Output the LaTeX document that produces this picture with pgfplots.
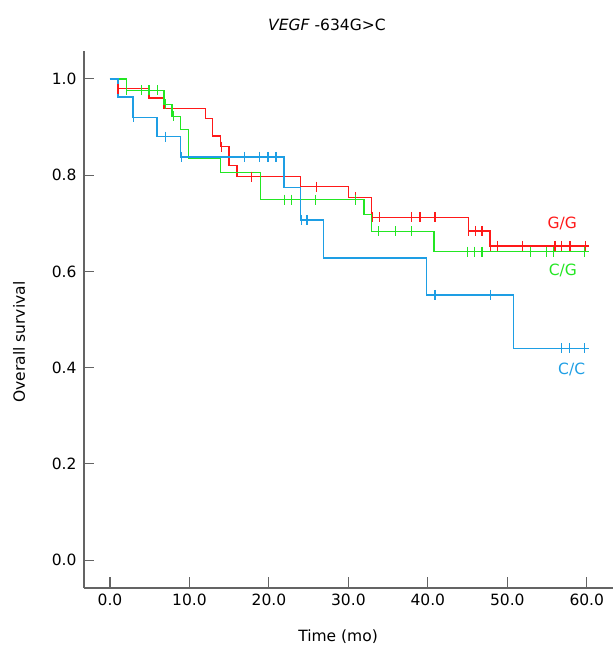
\documentclass[border=0pt]{standalone}
\usepackage{pgfplots}
\pgfplotsset{compat=1.18}
\usetikzlibrary{calc}
\usepackage{fontspec}
\setmainfont{DejaVu Sans}
\newcommand\lbl{\fontsize{15.5}{18}\selectfont}
\definecolor{ggred}{RGB}{255,25,25}
\definecolor{cggreen}{RGB}{35,230,35}
\definecolor{ccblue}{RGB}{30,158,228}
\definecolor{axgray}{RGB}{100,100,100}
\begin{document}
\begin{tikzpicture}
\begin{axis}[
  scale only axis, width=529pt, height=537pt,
  xmin=-3.27, xmax=63.3, ymin=-0.058, ymax=1.058,
  axis x line=bottom, axis y line=left,
  axis line style={-, draw=axgray, line width=1.1pt},
  major tick style={draw=axgray, line width=1.1pt},
  tick align=inside, major tick length=10.5pt,
  xtick={0,10,...,60}, ytick={0,0.2,...,1.0},
  tick label style={font=\lbl, /pgf/number format/assume math mode=true,
    /pgf/number format/fixed, /pgf/number format/fixed zerofill,
    /pgf/number format/precision=1},
  yticklabel style={xshift=-4pt},
  xticklabel style={yshift=-2pt},
  clip=false,
]
\coordinate (O) at (rel axis cs:0,0);
% G/G
\addplot[const plot, draw=ggred, line width=1.5pt] coordinates {
 (0,1.0) (1.0,0.98) (4.9,0.96) (6.8,0.939) (12.0,0.918) (12.9,0.881) (13.9,0.859)
 (15.0,0.82) (16.0,0.797) (24.0,0.776) (30.0,0.754) (32.9,0.712) (45.1,0.684)
 (47.8,0.653) (60.3,0.653)};
\addplot[only marks, mark=|, mark size=5pt, mark options={draw=ggred, line width=1.3pt}] coordinates {
 (1.0,0.98) (14.0,0.859) (17.8,0.797) (26.0,0.776) (30.9,0.754) (33.0,0.712) (33.9,0.712)
 (37.9,0.712) (39.0,0.712) (40.9,0.712) (45.1,0.684) (46.0,0.684) (46.8,0.684)
 (47.9,0.653) (48.8,0.653) (51.9,0.653) (56.0,0.653) (56.8,0.653) (57.9,0.653) (59.8,0.653)};
% C/G
\addplot[const plot, draw=cggreen, line width=1.5pt] coordinates {
 (0,1.0) (2.1,0.976) (6.8,0.947) (7.8,0.922) (8.85,0.895) (9.85,0.835) (13.9,0.805)
 (18.95,0.749) (31.95,0.718) (32.9,0.683) (40.8,0.641) (60.3,0.641)};
\addplot[only marks, mark=|, mark size=5pt, mark options={draw=cggreen, line width=1.3pt}] coordinates {
 (2.1,0.976) (4.0,0.976) (4.9,0.976) (6.0,0.976) (7.0,0.947) (8.0,0.922)
 (22.0,0.749) (22.85,0.749) (25.9,0.749) (30.9,0.749) (33.8,0.683) (35.9,0.683) (37.9,0.683)
 (45.0,0.641) (45.9,0.641) (46.8,0.641) (52.9,0.641) (54.9,0.641) (55.8,0.641) (59.7,0.641)};
% C/C
\addplot[const plot, draw=ccblue, line width=1.5pt] coordinates {
 (0,1.0) (1.0,0.962) (2.9,0.92) (5.9,0.88) (8.85,0.838) (21.9,0.774) (24.0,0.707)
 (26.9,0.628) (39.8,0.551) (50.8,0.44) (60.3,0.44)};
\addplot[only marks, mark=|, mark size=5pt, mark options={draw=ccblue, line width=1.3pt}] coordinates {
 (3.0,0.92) (7.0,0.88) (9.0,0.838) (16.9,0.838) (18.8,0.838) (19.9,0.838) (20.9,0.838)
 (24.1,0.707) (24.8,0.707) (40.9,0.551) (47.9,0.551) (56.8,0.44) (57.8,0.44) (59.7,0.44)};
\node[text=ggred, font=\lbl] at (axis cs:56.9,0.70) {G/G};
\node[text=cggreen, font=\lbl] at (axis cs:57.0,0.601) {C/G};
\node[text=ccblue, font=\lbl] at (axis cs:58.1,0.397) {C/C};
\node[font=\lbl] at (axis cs:27.3,1.112) {\textit{VEGF} -634G>C};
\node[font=\lbl, rotate=90] at (axis cs:-11.45,0.453) {Overall survival};
\node[font=\lbl] at (axis cs:28.7,-0.16) {Time (mo)};
\end{axis}
\pgfresetboundingbox
\path ($(O)+(-84pt,-62pt)$) rectangle ($(O)+(530pt,588pt)$);
\end{tikzpicture}
\end{document}
